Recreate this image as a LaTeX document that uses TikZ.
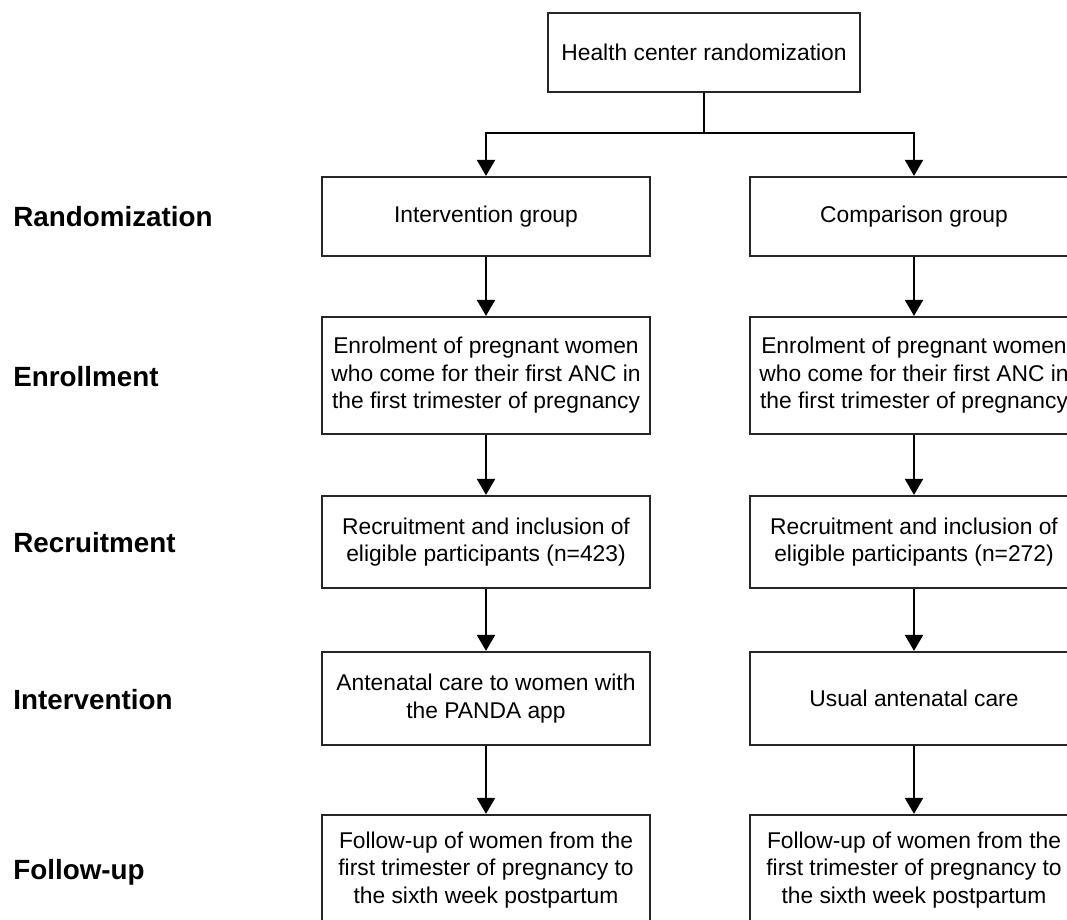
\documentclass[tikz,border=0pt]{standalone}
\usepackage{fontspec}
\setmainfont{Liberation Sans}
\usetikzlibrary{arrows.meta}
\tikzset{flowbox/.style = {draw = black!85, line width = 1.1pt, minimum width = 164pt, align = center, inner sep = 2pt, font = \fontsize{11.4}{13.75}\selectfont}}
\tikzset{stagelabel/.style = {anchor = west, inner sep = 0, font = \fontsize{13.9}{16}\selectfont\bfseries}}
\tikzset{arr/.style = {line width = 1.1pt, -{Triangle[width = 9pt, length = 8pt]}}}

\begin{document}
\begin{tikzpicture}[x = 0.5pt, y = -0.5pt]
      \clip (0, 0) rectangle (1067, 920);

      \node [flowbox, minimum width = 156pt, minimum height = 39.5pt] (top) at (704, 52.5) {Health center randomization};
      \coordinate (split) at (704, 133);

      \node [flowbox, minimum height = 39.5pt] (int1) at (486, 216.5) {Intervention group};
      \node [flowbox, minimum height = 58.5pt] (int2) at (486, 375.5) {Enrolment of pregnant women\\who come for their first ANC in\\the first trimester of pregnancy};
      \node [flowbox, minimum height = 46pt] (int3) at (486, 542) {Recruitment and inclusion of\\eligible participants (n=423)};
      \node [flowbox, minimum height = 46.5pt] (int4) at (486, 698.5) {Antenatal care to women with\\the PANDA app};
      \node [flowbox, minimum height = 55pt] (int5) at (486, 870) {Follow-up of women from the\\first trimester of pregnancy to\\the sixth week postpartum};

      \node [flowbox, minimum height = 39.5pt] (cmp1) at (914, 216.5) {Comparison group};
      \node [flowbox, minimum height = 58.5pt] (cmp2) at (914, 375.5) {Enrolment of pregnant women\\who come for their first ANC in\\the first trimester of pregnancy};
      \node [flowbox, minimum height = 46pt] (cmp3) at (914, 542) {Recruitment and inclusion of\\eligible participants (n=272)};
      \node [flowbox, minimum height = 46.5pt] (cmp4) at (914, 698.5) {Usual antenatal care};
      \node [flowbox, minimum height = 55pt] (cmp5) at (914, 870) {Follow-up of women from the\\first trimester of pregnancy to\\the sixth week postpartum};

      \foreach \t/\y [count = \i] in {Randomization/217, Enrollment/377, Recruitment/543, Intervention/700, Follow-up/872} {
        \node [stagelabel] (stage\i) at (13, \y) {\t};
      }

      \draw [line width = 1.1pt] (top) -- (split);
      \draw [arr] (split) -| (int1);
      \draw [arr] (split) -| (cmp1);
      \foreach \a/\b in {1/2, 2/3, 3/4, 4/5} {
        \draw [arr] (int\a) -- (int\b);
        \draw [arr] (cmp\a) -- (cmp\b);
      }
    \end{tikzpicture}
\end{document}
